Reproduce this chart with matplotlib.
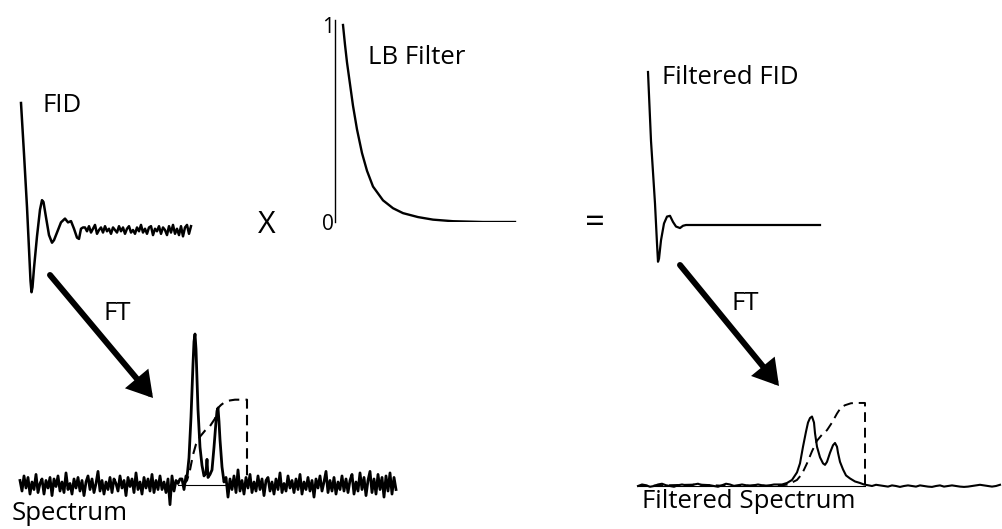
import numpy as np
import matplotlib
matplotlib.use("Agg")
import matplotlib.pyplot as plt
from matplotlib.patches import FancyArrowPatch

# ---------------- data ----------------
# Raw FID: time (arb.) and amplitude (1 = first point)
fid_t_head = [0, 3, 6, 8, 9.5, 10.5, 11.5, 13, 16, 19, 21, 22.5, 25, 28, 31, 33, 36, 40, 44, 47, 50, 53, 56, 58, 60, 62]
fid_amp_head = [1.00, 0.60, 0.18, -0.15, -0.40, -0.49, -0.45, -0.30, -0.05, 0.16, 0.235, 0.22, 0.10, -0.04,
                -0.10, -0.08, -0.02, 0.06, 0.09, 0.06, 0.07, 0.01, -0.06, -0.07, 0.01, 0.02]
fid_tail_start, fid_tail_step = 64, 2
fid_tail_noise = [0.02, -0.01, 0.03, -0.02, 0.01, 0.04, -0.03, 0.00, 0.02, -0.02, 0.03, -0.01, 0.01, -0.03,
                  0.02, 0.00, -0.02, 0.03, -0.01, 0.02, -0.03, 0.01, 0.03, -0.02, 0.00, -0.03, 0.02, -0.01,
                  0.04, -0.02, 0.01, -0.03, 0.02, 0.03, -0.04, 0.01, -0.01, 0.03, -0.03, 0.02, 0.00, -0.04,
                  0.03, -0.02, 0.04, -0.03, 0.01, -0.04, 0.03, -0.05, 0.02, 0.04, -0.03, 0.03]

# LB (exponential line-broadening) filter
lb_t = [0, 2, 4, 7, 10, 14, 19, 24, 30, 40, 50, 60, 75, 90, 110, 140, 172]
lb_val = [1.0, 0.90, 0.81, 0.70, 0.59, 0.47, 0.35, 0.26, 0.18, 0.11, 0.07, 0.045, 0.025, 0.012, 0.004, 0.0, 0.0]
lb_ticks = [0, 1]
lb_tick_labels = ["0", "1"]

# Filtered FID
ffid_t = [0, 3, 7, 9, 10, 11, 13, 16, 19, 22, 25, 28, 32, 35, 38, 44, 172]
ffid_amp = [1.0, 0.55, 0.14, -0.12, -0.24, -0.22, -0.10, 0.01, 0.055, 0.06, 0.02, -0.01, -0.02, -0.005, 0.0, 0.0, 0.0]

# Raw spectrum (frequency arb., intensity: tallest peak = 1)
spec_left_start, spec_step = 0, 2
spec_noise_left = [0.03, -0.04, 0.06, -0.02, 0.05, -0.06, 0.02, -0.03, 0.07, -0.05, 0.01, 0.04, -0.06, 0.03, -0.02, 0.05, -0.07, 0.04, -0.01, 0.06,
                   -0.04, 0.02, -0.05, 0.08, -0.03, 0.01, -0.06, 0.04, -0.02, 0.05, -0.04, 0.03, -0.07, 0.02, 0.06, -0.03, 0.04, -0.05, 0.01, 0.09,
                   -0.04, 0.03, -0.06, 0.02, -0.03, 0.05, -0.05, 0.04, 0.01, -0.04, 0.06, -0.02, 0.03, -0.07, 0.05, -0.01, 0.04, -0.05, 0.08, -0.03,
                   0.02, -0.06, 0.05, -0.02, 0.04, -0.04, 0.07, -0.05, 0.03, -0.03, 0.06, -0.03, 0.02, -0.05, 0.04, -0.13, 0.06, -0.04, 0.03, 0.01, 0.04]
spec_peak_t = [162, 164, 166, 167, 169, 171, 173, 174, 175, 176, 177, 178, 180, 182, 184, 186, 187, 188, 190, 192, 194, 196, 197, 198, 199, 200, 202, 204]
spec_peak_y = [0.04, -0.03, 0.06, 0.05, 0.18, 0.45, 0.80, 0.95, 1.00, 0.90, 0.70, 0.50, 0.25, 0.13, 0.06, 0.08, 0.17, 0.05, 0.07, 0.10,
               0.25, 0.42, 0.49, 0.51, 0.42, 0.30, 0.12, 0.02]
spec_right_start = 206
spec_noise_right = [0.05, -0.08, 0.04, -0.03, 0.06, -0.05, 0.10, -0.04, 0.03, -0.06, 0.05, -0.02, 0.07, -0.05, 0.02, -0.04, 0.06, -0.03, 0.04, -0.07,
                    0.03, 0.05, -0.04, 0.02, -0.06, 0.04, -0.03, 0.08, -0.05, 0.01, -0.04, 0.06, -0.02, 0.03, -0.05, 0.04, -0.03, 0.07, -0.06, 0.02,
                    -0.03, 0.05, -0.04, 0.03, -0.08, 0.04, -0.02, 0.06, -0.04, 0.02, 0.09, -0.05, 0.03, -0.04, 0.05, -0.06, 0.02, -0.03, 0.06, -0.04,
                    0.04, -0.05, 0.03, 0.07, -0.06, 0.02, -0.04, 0.08, -0.03, 0.05, -0.07, 0.03, 0.09, -0.05, 0.04, -0.06, 0.07, -0.03, 0.05, -0.08,
                    0.06, -0.04, 0.08, -0.06, 0.05, -0.03]
spec_int_t = [163, 167, 170, 173, 176, 180, 185, 190, 195, 198, 201, 205, 210, 215, 227, 227]
spec_int_y = [0.0, 0.03, 0.10, 0.20, 0.27, 0.32, 0.36, 0.39, 0.44, 0.51, 0.53, 0.55, 0.56, 0.565, 0.565, 0.0]
spec_zero_t = [158, 205]

# Filtered spectrum (same intensity scale)
filt_left_start, filt_step = 0, 4
filt_noise_left = [0.00, 0.01, 0.005, -0.005, 0.0, 0.01, 0.015, 0.005, 0.0, -0.005, 0.005, 0.01, 0.005, 0.0, 0.01, 0.015, 0.005, 0.0,
                   0.005, 0.0, -0.005, 0.005, 0.015, 0.01, 0.0, 0.005, 0.01, 0.005, 0.0, 0.005, 0.01, 0.005, 0.0, 0.005, 0.01, 0.01]
filt_peak_t = [144, 149, 154, 159, 162, 165, 168, 170, 172, 174, 176, 177, 179, 182, 185, 187, 189, 192, 195, 197, 199, 200, 202, 205, 208, 212, 217, 222, 226]
filt_peak_y = [0.01, 0.02, 0.04, 0.09, 0.15, 0.26, 0.36, 0.42, 0.45, 0.46, 0.42, 0.35, 0.26, 0.19, 0.15, 0.14, 0.16, 0.22, 0.27, 0.285,
               0.26, 0.22, 0.16, 0.11, 0.07, 0.05, 0.03, 0.02, 0.01]
filt_right_start = 230
filt_noise_right = [0.005, 0.0, 0.008, 0.004, 0.0, -0.004, 0.004, 0.0, -0.006, 0.0, 0.004, 0.0, -0.004, 0.004, 0.0, -0.004, -0.006, 0.0,
                    0.004, -0.004, 0.0, 0.004, 0.0, -0.004, -0.006, -0.004, 0.0, 0.004, 0.008, 0.004, 0.0, -0.004, 0.0, 0.008]
filt_int_t = [0, 30, 60, 90, 120, 139, 150, 159, 164, 169, 174, 179, 184, 189, 194, 199, 203, 207, 213, 219, 227, 227]
filt_int_y = [0.0, 0.005, 0.01, 0.0, 0.005, 0.0, 0.01, 0.04, 0.08, 0.15, 0.23, 0.30, 0.34, 0.37, 0.42, 0.48, 0.52, 0.535, 0.548, 0.55, 0.55, 0.0]
filt_zero_t = [0, 227]

# ---------------- layout ----------------
W, H = 1002, 529
fig = plt.figure(figsize=(W / 100, H / 100), dpi=100)
fig.patch.set_facecolor("white")
FONT = "Open Sans"


def overlay(x0, y0, sx, sy):
    """Full-figure transparent axes whose data origin sits at pixel (x0, y0)."""
    ax = fig.add_axes([0, 0, 1, 1])
    ax.set_xlim(-x0 / sx, (W - x0) / sx)
    ax.set_ylim(-(H - y0) / sy, y0 / sy)
    ax.axis("off")
    ax.patch.set_alpha(0)
    return ax


def series(start, step, vals):
    return np.arange(len(vals)) * step + start, np.asarray(vals)


# base axes for annotations (pixel coordinates)
base = fig.add_axes([0, 0, 1, 1])
base.set_xlim(0, W)
base.set_ylim(H, 0)
base.axis("off")

# FID
ax = overlay(21, 230, 1, 127)
tt, nn = series(fid_tail_start, fid_tail_step, fid_tail_noise)
ax.plot(np.concatenate([fid_t_head, tt]), np.concatenate([fid_amp_head, nn]), color="black", lw=1.8,
        solid_joinstyle="round")

# LB filter (real axes with left spine)
lb_ax = fig.add_axes([335 / W, 1 - 222 / H, (520 - 335) / W, (222 - 20) / H])
lb_ax.set_xlim(-8, 177)
lb_ax.set_ylim(0, 202 / 197)
lb_ax.plot(lb_t, lb_val, color="black", lw=1.7)
for s in ["top", "right", "bottom"]:
    lb_ax.spines[s].set_visible(False)
lb_ax.spines["left"].set_linewidth(1.0)
lb_ax.set_xticks([])
lb_ax.set_yticks(lb_ticks)
lb_ax.set_yticklabels(lb_tick_labels, fontsize=15, family=FONT)
lb_ax.tick_params(axis="y", length=0, pad=1)
lb_ax.patch.set_alpha(0)

# Filtered FID
ax = overlay(648, 225, 1, 153)
ax.plot(ffid_t, ffid_amp, color="black", lw=1.6)

# Raw spectrum
ax = overlay(20, 485, 1, 151)
lt, ln = series(spec_left_start, spec_step, spec_noise_left)
rt, rn = series(spec_right_start, spec_step, spec_noise_right)
ax.plot(np.concatenate([lt, spec_peak_t, rt]), np.concatenate([ln, spec_peak_y, rn]), color="black", lw=2.0)
ax.plot(spec_zero_t, [0, 0], color="black", lw=0.8)
ax.plot(spec_int_t, spec_int_y, color="black", lw=1.5, dashes=(5, 3))

# Filtered spectrum
ax = overlay(638, 486, 1, 151)
flt, fln = series(filt_left_start, filt_step, filt_noise_left)
frt, frn = series(filt_right_start, filt_step, filt_noise_right)
ax.plot(np.concatenate([flt, filt_peak_t, frt]), np.concatenate([fln, filt_peak_y, frn]), color="black", lw=1.5)
ax.plot(filt_zero_t, [0, 0], color="black", lw=0.8)
ax.plot(filt_int_t, filt_int_y, color="black", lw=1.4, dashes=(5, 3))

# labels
txt = dict(family=FONT, fontsize=18.5, color="black", va="center")
base.text(43, 106, "FID", ha="left", **txt)
base.text(368, 58, "LB Filter", ha="left", **txt)
base.text(662, 78, "Filtered FID", ha="left", **txt)
base.text(12, 514, "Spectrum", ha="left", **txt)
base.text(642, 501, "Filtered Spectrum", ha="left", **txt)
base.text(117, 313, "FT", ha="center", **txt)
base.text(745, 303, "FT", ha="center", **txt)
base.text(267, 225, "X", ha="center", family=FONT, fontsize=22, va="center")
base.text(595, 224, "=", ha="center", family=FONT, fontsize=25, va="center")

# FT arrows
for (x0, y0), (x1, y1) in [((50, 275), (153, 398)), ((680, 265), (779, 386))]:
    arr = FancyArrowPatch((x0, y0), (x1, y1), arrowstyle="-|>,head_length=0.75,head_width=0.45",
                          mutation_scale=16, lw=4.3, color="black", shrinkA=0, shrinkB=0,
                          joinstyle="miter")
    base.add_patch(arr)

fig.savefig("out.png", dpi=100, facecolor="white")
